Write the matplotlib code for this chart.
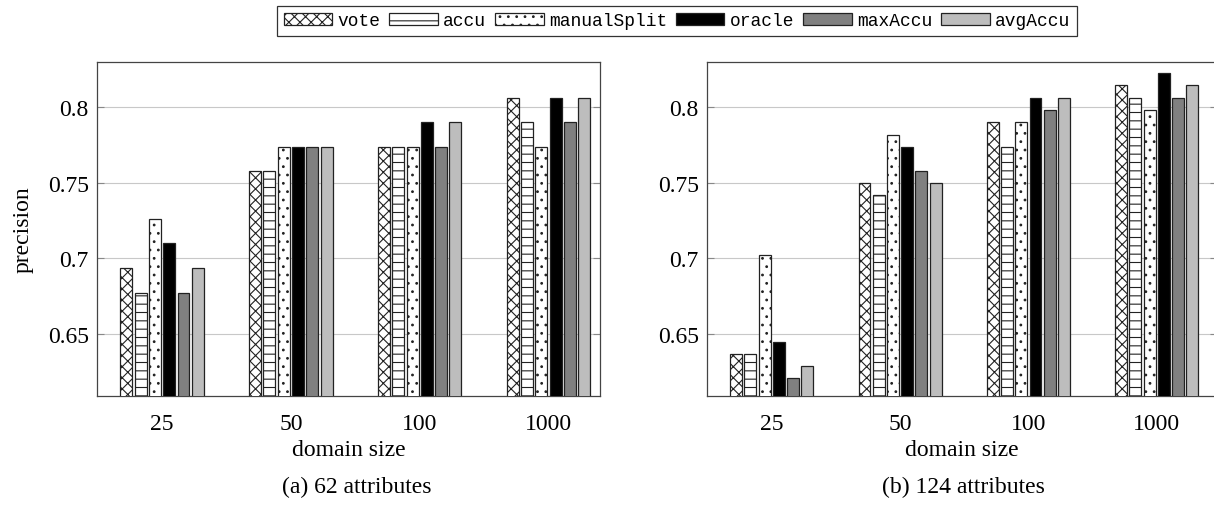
import matplotlib
matplotlib.use("Agg")
import matplotlib.pyplot as plt
import numpy as np

plt.rcParams['font.family'] = ['Liberation Serif', 'DejaVu Serif']
plt.rcParams['hatch.linewidth'] = 0.8

categories = ["25", "50", "100", "1000"]
series = ["vote", "accu", "manualSplit", "oracle", "maxAccu", "avgAccu"]

# (a) 62 attributes
a_vote = [0.694, 0.758, 0.774, 0.806]
a_accu = [0.677, 0.758, 0.774, 0.790]
a_manualSplit = [0.726, 0.774, 0.774, 0.774]
a_oracle = [0.710, 0.774, 0.790, 0.806]
a_maxAccu = [0.677, 0.774, 0.774, 0.790]
a_avgAccu = [0.694, 0.774, 0.790, 0.806]

# (b) 124 attributes
b_vote = [0.637, 0.750, 0.790, 0.815]
b_accu = [0.637, 0.742, 0.774, 0.806]
b_manualSplit = [0.702, 0.782, 0.790, 0.798]
b_oracle = [0.645, 0.774, 0.806, 0.823]
b_maxAccu = [0.621, 0.758, 0.798, 0.806]
b_avgAccu = [0.629, 0.750, 0.806, 0.815]

yticks = [0.65, 0.7, 0.75, 0.8]
yticklabels = ["0.65", "0.7", "0.75", "0.8"]

styles = [
    dict(facecolor="white", hatch="xxx"),
    dict(facecolor="white", hatch="--"),
    dict(facecolor="white", hatch=".."),
    dict(facecolor="black", hatch=None),
    dict(facecolor="#808080", hatch=None),
    dict(facecolor="#bdbdbd", hatch=None),
]

FS = 17
W, H = 1214, 506
fig = plt.figure(figsize=(W / 100, H / 100), dpi=100)

ax1 = fig.add_axes([97 / W, 1 - 397 / H, 503 / W, 334 / H])
ax2 = fig.add_axes([707 / W, 1 - 397 / H, 510 / W, 334 / H])

data_a = [a_vote, a_accu, a_manualSplit, a_oracle, a_maxAccu, a_avgAccu]
data_b = [b_vote, b_accu, b_manualSplit, b_oracle, b_maxAccu, b_avgAccu]

x = np.arange(len(categories))
pitch = 0.111
bw = 0.093
handles = []
for ax, data, xr in [(ax1, data_a, 3.40), (ax2, data_b, 3.47)]:
    for i, (name, vals, st) in enumerate(zip(series, data, styles)):
        off = (i - 2.5) * pitch
        bars = ax.bar(x + off, vals, width=bw, facecolor=st["facecolor"],
                      hatch=st["hatch"], edgecolor="#222222", linewidth=0.9,
                      label=name, zorder=3)
        if ax is ax1:
            handles.append(bars)
    ax.set_ylim(0.609, 0.83)
    ax.set_xlim(-0.505, xr)
    ax.set_yticks(yticks)
    ax.set_yticklabels(yticklabels)
    ax.set_xticks(x)
    ax.set_xticklabels(categories)
    ax.tick_params(axis='y', direction='in', length=5, color='#888888',
                   labelsize=FS, pad=6, right=True)
    ax.tick_params(axis='x', length=0, labelsize=FS, pad=12)
    ax.yaxis.grid(True, color='#c8c8c8', linewidth=0.8, zorder=0)
    ax.set_axisbelow(True)
    for sp in ax.spines.values():
        sp.set_color('#444444')
        sp.set_linewidth(0.9)
    ax.set_xlabel("domain size", fontsize=FS)
    ax.xaxis.set_label_coords(0.5, (397 - 456) / 334)
    ax.xaxis.label.set_va('baseline')

ax1.set_ylabel("precision", fontsize=FS)
ax1.yaxis.set_label_coords((23 - 97) / 503, 0.5)
ax1.yaxis.label.set_va('center')

fig.text(357 / W, 1 - 493 / H, "(a) 62 attributes", ha='center', va='baseline', fontsize=FS)
fig.text(963 / W, 1 - 493 / H, "(b) 124 attributes", ha='center', va='baseline', fontsize=FS)

leg = fig.legend(handles=handles, labels=series, loc='upper center', ncol=6,
                 bbox_to_anchor=(677 / W, 1 - 7 / H),
                 prop={'family': 'Liberation Mono', 'size': 12.9},
                 frameon=True, fancybox=False, edgecolor='black',
                 handlelength=2.7, handleheight=0.65, handletextpad=0.3,
                 columnspacing=0.5, borderpad=0.35, borderaxespad=0)
leg.get_frame().set_linewidth(0.9)

fig.savefig("out.png", dpi=100)
